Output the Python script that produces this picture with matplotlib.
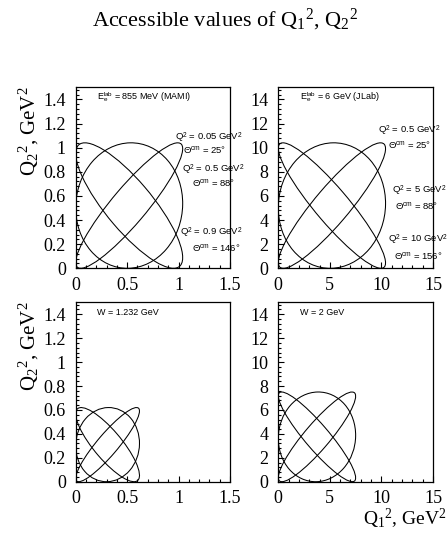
import numpy as np
import matplotlib
matplotlib.use("Agg")
import matplotlib.pyplot as plt
from matplotlib.patches import Ellipse
from matplotlib.ticker import MultipleLocator, FormatStrFormatter

plt.rcParams["mathtext.fontset"] = "custom"
plt.rcParams["mathtext.rm"] = "Liberation Serif"
plt.rcParams["mathtext.it"] = "Liberation Serif:italic"
plt.rcParams["mathtext.sf"] = "Liberation Sans"
plt.rcParams["font.family"] = "Liberation Serif"

# ---------------------------------------------------------------------------
# datos
# ---------------------------------------------------------------------------
panel_labels = [r"E$_{\mathsf{e}}^{\mathsf{lab}}$ = 855 MeV (MAMI)",
                r"E$_{\mathsf{e}}^{\mathsf{lab}}$ = 6 GeV (JLab)",
                "W = 1.232 GeV",
                "W = 2 GeV"]
q2_max = [1.04, 10.4, 0.62, 7.5]            # GeV^2, extension de las curvas
theta_cm = [[25, 88, 146], [25, 88, 156], [25, 88, 146], [25, 88, 156]]
q2_labels = [["0.05", "0.5", "0.9"], ["0.5", "5", "10"]]
axis_max = [1.5, 15, 1.5, 15]
major_step = [0.5, 5, 0.5, 5]
ymajor_step = [0.2, 2, 0.2, 2]

# posiciones de las anotaciones (fraccion de ejes)
q2_pos = [[(0.644, 0.720), (0.689, 0.544), (0.676, 0.196)],
          [(0.644, 0.759), (0.735, 0.428), (0.709, 0.157)]]
th_pos = [[(0.695, 0.656), (0.754, 0.474), (0.754, 0.115)],
          [(0.709, 0.684), (0.754, 0.347), (0.748, 0.070)]]

fig = plt.figure(figsize=(4.48, 5.35), dpi=100)
rects = [[0.169, 0.4985, 0.3444, 0.3383], [0.6212, 0.4985, 0.3453, 0.3383],
         [0.169, 0.0996, 0.3444, 0.3354], [0.6212, 0.0996, 0.3453, 0.3354]]

for i, r in enumerate(rects):
    ax = fig.add_axes(r)
    a = q2_max[i] / 2.0
    for th in theta_cm[i]:
        d = np.radians(th)
        w = 2 * a * np.sqrt(2) * np.cos(d / 2)
        h = 2 * a * np.sqrt(2) * np.sin(d / 2)
        ax.add_patch(Ellipse((a, a), w, h, angle=45, fill=False,
                             edgecolor="black", lw=0.75))
    ax.set_xlim(0, axis_max[i])
    ax.set_ylim(0, axis_max[i])
    ax.xaxis.set_major_locator(MultipleLocator(major_step[i]))
    ax.xaxis.set_minor_locator(MultipleLocator(major_step[i] / 5))
    ax.yaxis.set_major_locator(MultipleLocator(ymajor_step[i]))
    ax.yaxis.set_minor_locator(MultipleLocator(ymajor_step[i] / 5))
    ax.xaxis.set_major_formatter(FormatStrFormatter("%g"))
    ax.yaxis.set_major_formatter(FormatStrFormatter("%g"))
    ax.tick_params(which="both", direction="in", top=False, right=False,
                   labelsize=13)
    ax.tick_params(which="major", length=4.5, width=0.8)
    ax.tick_params(which="minor", length=2.2, width=0.8)
    ax.tick_params(axis="x", pad=6)
    ax.tick_params(axis="y", pad=7)
    if axis_max[i] < 2:
        ax.set_yticks([v for v in ax.get_yticks() if v < 1.45])
    else:
        ax.set_yticks([v for v in ax.get_yticks() if v < 14.5])
    ax.set_ylim(0, axis_max[i])
    for s in ax.spines.values():
        s.set_linewidth(0.9)

    ax.text(0.14, 0.945, panel_labels[i], transform=ax.transAxes,
            fontsize=6.5, family="Liberation Sans", va="center", ha="left")

    if i < 2:
        for k in range(3):
            ax.text(*q2_pos[i][k], "Q$^{\\mathsf{2}}$ = " + q2_labels[i][k]
                    + " GeV$^{\\mathsf{2}}$", transform=ax.transAxes,
                    fontsize=6.8, family="Liberation Sans", va="center",
                    ha="left", clip_on=False)
            ax.text(*th_pos[i][k], "\u0398$^{\\mathsf{cm}}$ = %d\u00b0"
                    % theta_cm[i][k], transform=ax.transAxes,
                    fontsize=6.8, family="Liberation Sans", va="center",
                    ha="left", clip_on=False)

# etiquetas de ejes
ylab = r"Q$_{2}{}^{2}$, GeV$^{2}$"
fig.text(0.065, 1 - 86 / 535, ylab, rotation=90, ha="center", va="top",
         fontsize=15)
fig.text(0.065, 1 - 301 / 535, ylab, rotation=90, ha="center", va="top",
         fontsize=15)
fig.text(0.997, 1 - 525 / 535, r"Q$_{1}{}^{2}$, GeV$^{2}$", ha="right",
         va="baseline", fontsize=14)

fig.text(0.502, 1 - 20 / 535, r"Accessible values of Q$_{1}{}^{2}$, Q$_{2}{}^{2}$",
         ha="center", va="center", fontsize=16)

fig.savefig("out.png", dpi=100)
